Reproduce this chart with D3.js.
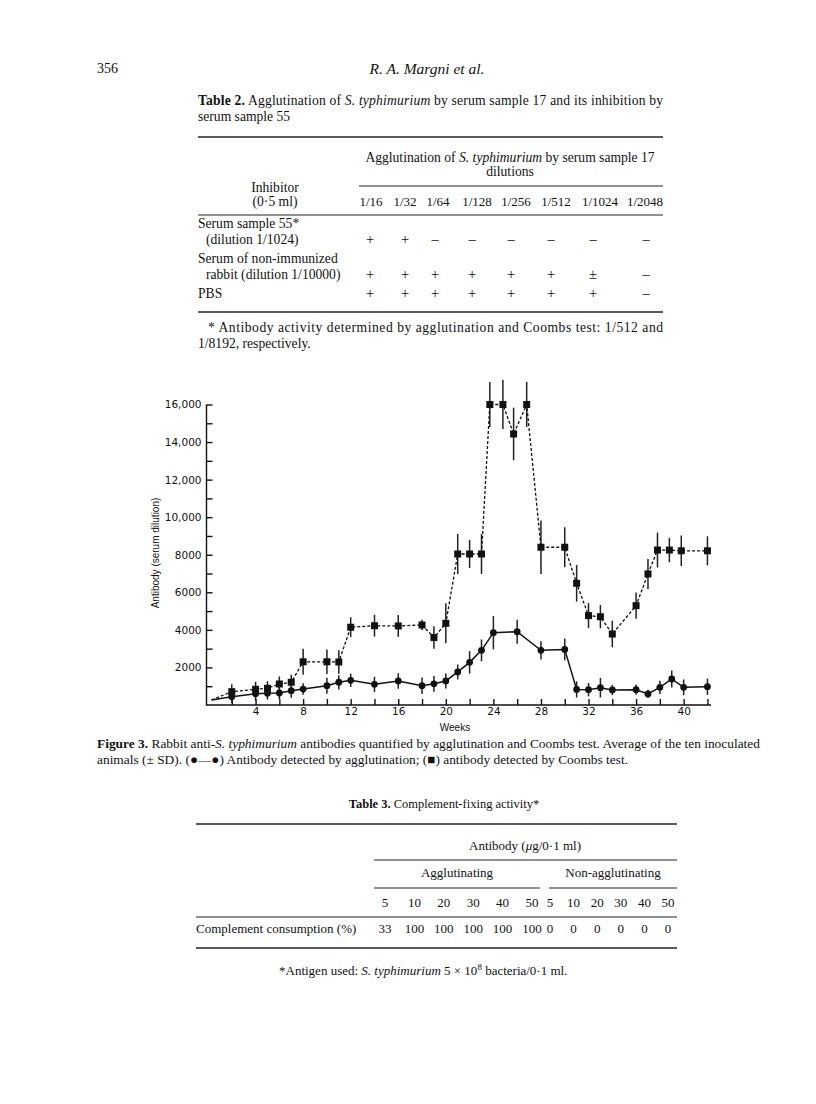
<!DOCTYPE html>
<html>
<head>
<meta charset="utf-8">
<script src="https://cdn.jsdelivr.net/npm/d3@7"></script>
<style>
  body { margin: 0; background: #fff; }
  svg { display: block; }
  .serif { font-family: "Liberation Serif", "Times New Roman", serif; fill: #111; }
  .axis text { font-family: "DejaVu Sans", sans-serif; font-size: 10.5px; fill: #111; }
  .axis path, .axis line { stroke: #111; stroke-width: 1.4px; }
</style>
</head>
<body>
<script>
// ---------------------------------------
// Figure 3 data
const aggWeeks = [0.3, 2, 4, 5, 6, 7, 8, 10, 11, 12, 14, 16, 18, 19, 20, 21, 22, 23, 24, 26, 28, 30, 31, 32, 33, 34, 36, 37, 38, 39, 40, 42];
const aggValues = [270, 440, 600, 620, 640, 760, 850, 1030, 1210, 1315, 1100, 1280, 1030, 1130, 1280, 1760, 2270, 2910, 3850, 3900, 2910, 2960, 830, 815, 920, 800, 815, 590, 940, 1385, 940, 975];
const aggSD = [0, 330, 380, 330, 330, 380, 310, 425, 380, 355, 400, 410, 440, 420, 400, 400, 600, 580, 890, 640, 490, 580, 435, 355, 520, 270, 270, 220, 355, 450, 420, 435];

const coombsWeeks = [0.3, 2, 4, 5, 6, 7, 8, 10, 11, 12, 14, 16, 18, 19, 20, 21, 22, 23, 23.7, 24.8, 25.7, 26.8, 28, 30, 31, 32, 33, 34, 36, 37, 37.8, 38.8, 39.8, 42];
const coombsValues = [270, 710, 835, 890, 1120, 1210, 2300, 2300, 2290, 4140, 4220, 4210, 4260, 3590, 4350, 8040, 8040, 8040, 16000, 16000, 14430, 16000, 8400, 8400, 6480, 4760, 4700, 3780, 5290, 6980, 8250, 8250, 8210, 8210];
const coombsSD = [0, 400, 400, 380, 400, 400, 690, 650, 620, 530, 580, 580, 280, 600, 1065, 1065, 750, 1065, 1200, 1300, 1400, 1200, 1420, 1065, 975, 665, 620, 710, 700, 800, 930, 650, 815, 770];

const xTicks = d3.range(2, 43, 2);
const yTicks = d3.range(1000, 16001, 1000);

// Table 2 data
const dilutions = ["1/16", "1/32", "1/64", "1/128", "1/256", "1/512", "1/1024", "1/2048"];
const inhibitors = [["Serum sample 55*", "(dilution 1/1024)"], ["Serum of non-immunized", "rabbit (dilution 1/10000)"], ["PBS"]];
const results = [
  ["+", "+", "–", "–", "–", "–", "–", "–"],
  ["+", "+", "+", "+", "+", "+", "±", "–"],
  ["+", "+", "+", "+", "+", "+", "+", "–"]
];

// Table 3 data
const doses = ["5", "10", "20", "30", "40", "50"];
const aggConsumption = ["33", "100", "100", "100", "100", "100"];
const nonAggConsumption = ["0", "0", "0", "0", "0", "0"];

// column layout of table 2 (the scan's columns are not evenly spaced)
const headCols = [371, 405, 438, 477, 516, 556, 600, 645];
const cellCols = [370, 405, 435, 472, 511, 551, 593, 646];

const svg = d3.select("body").append("svg")
    .attr("width", 816)
    .attr("height", 1104);

// write one line of serif text made of [text, style] parts
function line(x, y, parts, opts) {
  opts = opts || {};
  const t = svg.append("text")
      .attr("class", "serif")
      .attr("x", x)
      .attr("y", y)
      .attr("font-size", opts.size || 13)
      .attr("text-anchor", opts.anchor || "start");
  if (opts.width) t.attr("textLength", opts.width).attr("lengthAdjust", "spacing");
  parts.forEach(function(p) {
    if (typeof p === "string") p = [p, ""];
    const s = t.append("tspan").text(p[0]);
    if (p[1].indexOf("i") >= 0) s.attr("font-style", "italic");
    if (p[1].indexOf("b") >= 0) s.attr("font-weight", "bold");
    if (p[1].indexOf("sup") >= 0) s.attr("baseline-shift", "super").attr("font-size", 9);
  });
  return t;
}

function rule(x1, x2, y, w) {
  svg.append("line")
      .attr("x1", x1).attr("x2", x2)
      .attr("y1", y).attr("y2", y)
      .attr("stroke", "#222")
      .attr("stroke-width", w || 1);
}

// ---------------------------------------
// page header
line(97, 73, ["356"], {size: 14});
line(427, 74, [["R. A. Margni et al.", "i"]], {size: 15.5, anchor: "middle"});

// ---------------------------------------
// Table 2
const t2 = 13.6;
line(198, 105, [["Table 2.", "b"], " Agglutination of ", ["S. typhimurium", "i"], " by serum sample 17 and its inhibition by"], {width: 465, size: t2});
line(198, 121, ["serum sample 55"], {size: t2});
rule(198, 663, 137, 1.6);
line(510, 162, ["Agglutination of ", ["S. typhimurium", "i"], " by serum sample 17"], {anchor: "middle", size: t2});
line(510, 176, ["dilutions"], {anchor: "middle", size: t2});
rule(359, 663, 186, 1);
line(275, 192, ["Inhibitor"], {anchor: "middle", size: t2});
line(275, 206, ["(0·5 ml)"], {anchor: "middle", size: t2});

dilutions.forEach(function(d, k) {
  line(headCols[k], 206, [d], {anchor: "middle", size: 13});
});
rule(198, 663, 215, 1.2);

const rowY = [244, 279, 298];
inhibitors.forEach(function(lines, i) {
  lines.forEach(function(txt, j) {
    const ty = rowY[i] - (lines.length - 1 - j) * 16;
    line(j === 0 ? 198 : 206, ty, [txt], {size: t2});
  });
  results[i].forEach(function(r, k) {
    line(cellCols[k], rowY[i], [r], {anchor: "middle", size: 14.5});
  });
});
rule(198, 663, 312, 1.6);
line(208, 332, ["* Antibody activity determined by agglutination and Coombs test: 1/512 and"], {width: 455, size: t2});
line(198, 348, ["1/8192, respectively."], {size: t2});

// ---------------------------------------
// Figure 3 chart
const x = d3.scaleLinear()
    .domain([0, 42.3])
    .range([208, 711]);
const y = d3.scaleLinear()
    .domain([0, 16000])
    .range([705, 404.5]);

const xAxis = d3.axisBottom(x)
    .tickValues(xTicks)
    .tickSizeInner(-6)
    .tickSizeOuter(0)
    .tickPadding(3)
    .tickFormat(function(d) { return d % 4 === 0 ? d : ""; });
svg.append("g")
    .attr("class", "axis")
    .attr("transform", "translate(0," + y(0) + ")")
    .call(xAxis)
    .call(function(g) { g.select(".domain").attr("d", "M" + (x(0) - 1.5) + ",0H" + x(42.3)); });

const yAxis = d3.axisLeft(y)
    .tickValues(yTicks)
    .tickSizeInner(-6)
    .tickSizeOuter(0)
    .tickPadding(5)
    .tickFormat(function(d) {
      if (d % 2000 !== 0) return "";
      return d >= 10000 ? d3.format(",")(d) : d;
    });
svg.append("g")
    .attr("class", "axis")
    .attr("transform", "translate(" + (x(0) - 1.5) + ",0)")
    .call(yAxis)
    .call(function(g) { g.select(".domain").attr("d", "M0," + y(16000) + "V" + (y(0) + 0.7)); });

svg.append("text")
    .attr("transform", "translate(159,553) rotate(-90)")
    .attr("text-anchor", "middle")
    .attr("font-family", "Liberation Sans, sans-serif")
    .attr("font-size", 10)
    .attr("fill", "#111")
    .text("Antibody (serum dilution)");

svg.append("text")
    .attr("x", 455)
    .attr("y", 731)
    .attr("text-anchor", "middle")
    .attr("font-family", "Liberation Sans, sans-serif")
    .attr("font-size", 10)
    .attr("fill", "#111")
    .text("Weeks");

const agg = aggWeeks.map(function(w, i) { return {w: w, v: aggValues[i], sd: aggSD[i]}; });
const coombs = coombsWeeks.map(function(w, i) { return {w: w, v: coombsValues[i], sd: coombsSD[i]}; });

const path = d3.line()
    .x(function(d) { return x(d.w); })
    .y(function(d) { return y(d.v); });

// error bars (± SD)
[agg, coombs].forEach(function(series) {
  svg.append("g")
      .selectAll("line")
      .data(series.filter(function(d) { return d.sd > 0; }))
      .enter()
      .append("line")
      .attr("x1", function(d) { return x(d.w); })
      .attr("x2", function(d) { return x(d.w); })
      .attr("y1", function(d) { return y(d.v - d.sd); })
      .attr("y2", function(d) { return y(d.v + d.sd); })
      .attr("stroke", "#222")
      .attr("stroke-width", 1.5);
});

svg.append("path")
    .datum(coombs)
    .attr("d", path)
    .attr("fill", "none")
    .attr("stroke", "#111")
    .attr("stroke-width", 1.3)
    .attr("stroke-dasharray", "3,2");

svg.append("path")
    .datum(agg)
    .attr("d", path)
    .attr("fill", "none")
    .attr("stroke", "#111")
    .attr("stroke-width", 1.5);

// markers: squares for Coombs, dots for agglutination
svg.append("g")
    .selectAll("rect")
    .data(coombs.slice(1))
    .enter()
    .append("rect")
    .attr("x", function(d) { return x(d.w) - 3.5; })
    .attr("y", function(d) { return y(d.v) - 3.5; })
    .attr("width", 7)
    .attr("height", 7)
    .attr("fill", "#111");

svg.append("g")
    .selectAll("circle")
    .data(agg.slice(1))
    .enter()
    .append("circle")
    .attr("cx", function(d) { return x(d.w); })
    .attr("cy", function(d) { return y(d.v); })
    .attr("r", 3.4)
    .attr("fill", "#111");

// caption
line(97, 748, [["Figure 3.", "b"], " Rabbit anti-", ["S. typhimurium", "i"], " antibodies quantified by agglutination and Coombs test. Average of the ten inoculated"], {width: 663, size: 13.4});
line(97, 764, ["animals (± SD). (●—●) Antibody detected by agglutination; (■) antibody detected by Coombs test."], {size: 13.4});

// ---------------------------------------
// Table 3
line(444, 808, [["Table 3.", "b"], " Complement-fixing activity*"], {anchor: "middle", size: 12.5});
rule(196, 677, 824, 1.6);
line(525, 850, ["Antibody (", ["μ", "i"], "g/0·1 ml)"], {anchor: "middle"});
rule(374, 677, 860, 1);
line(457, 877, ["Agglutinating"], {anchor: "middle"});
line(613, 877, ["Non-agglutinating"], {anchor: "middle"});
rule(374, 540, 888, 1);
rule(549, 677, 888, 1);

const aggX = d3.scalePoint().domain(doses).range([385, 532]);
const nonX = d3.scalePoint().domain(doses).range([550, 668]);
doses.forEach(function(d, i) {
  line(aggX(d), 907, [d], {anchor: "middle"});
  line(nonX(d), 907, [d], {anchor: "middle"});
  line(aggX(d), 933, [aggConsumption[i]], {anchor: "middle"});
  line(nonX(d), 933, [nonAggConsumption[i]], {anchor: "middle"});
});
rule(196, 677, 917, 1.2);
line(196, 933, ["Complement consumption (%)"]);
rule(196, 677, 948, 1.6);

line(279, 975, ["*Antigen used: ", ["S. typhimurium", "i"], " 5 × 10", ["8", "sup"], " bacteria/0·1 ml."]);
</script>
</body>
</html>
